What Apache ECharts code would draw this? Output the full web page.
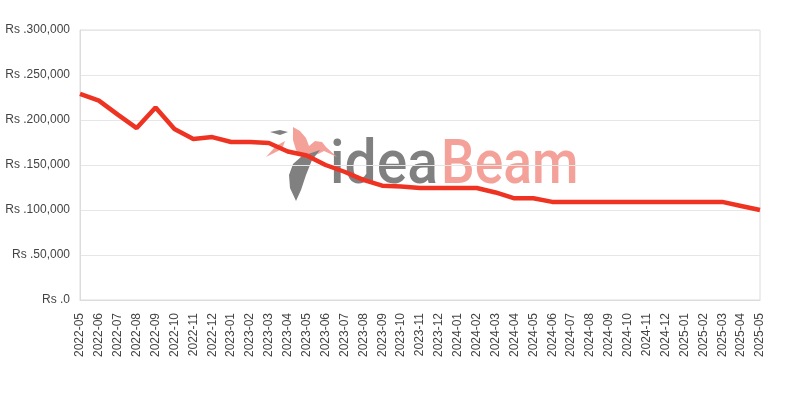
<!DOCTYPE html>
<html>
<head>
<meta charset="utf-8">
<script src="https://cdn.jsdelivr.net/npm/echarts@6/dist/echarts.min.js"></script>
<style>html,body{margin:0;padding:0;background:#fff;}#c{width:800px;height:400px;}</style>
</head>
<body>
<div id="c"></div>
<script>
var months = ['2022-05','2022-06','2022-07','2022-08','2022-09','2022-10','2022-11','2022-12',
  '2023-01','2023-02','2023-03','2023-04','2023-05','2023-06','2023-07','2023-08','2023-09','2023-10','2023-11','2023-12',
  '2024-01','2024-02','2024-03','2024-04','2024-05','2024-06','2024-07','2024-08','2024-09','2024-10','2024-11','2024-12',
  '2025-01','2025-02','2025-03','2025-04','2025-05'];
var prices = [229000,221500,206000,191000,214000,190000,179000,181000,
  175500,175500,174500,165000,160500,150000,142500,133500,127000,126000,124500,124500,
  124500,124500,119500,113000,113000,109000,109000,109000,109000,109000,109000,109000,
  109000,109000,109000,104500,100000];
var yTicks = [0,50000,100000,150000,200000,250000,300000];

var chart = echarts.init(document.getElementById('c'));
function fmt(v){ return 'Rs .' + v.toLocaleString('en-US'); }
chart.setOption({
  animation: false,
  grid: {left: 80, right: 40, top: 30, bottom: 100, show: true, borderColor: '#dcdcdc', borderWidth: 1, backgroundColor: 'transparent'},
  graphic: [
    {type: 'text', z: 0, x: 330, y: 136, scaleX: 0.92,
     style: {text: 'idea', font: '500 62px Roboto', fill: '#808080'}},
    {type: 'text', z: 0, x: 441, y: 136, scaleX: 0.86,
     style: {text: 'Beam', font: '500 62px Roboto', fill: '#f4a19a'}},
    {type: 'polygon', z: 0, shape: {points: [[293,127],[300,131],[306,138],[309,146],[315,141],[322,142],[326,147],[337,157],[324,151],[318,154],[308,157],[300,155],[296,150],[293,140]]},
     style: {fill: '#f4a19a'}},
    {type: 'polygon', z: 0, shape: {points: [[266,157],[276,146],[285,141],[282,149]]}, style: {fill: '#f4a19a'}},
    {type: 'polygon', z: 0, shape: {points: [[270,132],[280,130],[288,132],[280,135]]}, style: {fill: '#808080'}},
    {type: 'polygon', z: 0, shape: {points: [[296,201],[290,188],[289,175],[293,164],[302,156],[320,150],[312,160],[306,175],[301,190]]},
     style: {fill: '#808080'}}
  ],
  xAxis: {
    type: 'category', data: months, boundaryGap: false,
    axisLine: {show: true, lineStyle: {color: '#dcdcdc'}},
    axisTick: {show: false},
    splitLine: {show: false},
    axisLabel: {rotate: 90, interval: 0, margin: 13, color: '#444', fontSize: 12, fontFamily: 'Liberation Sans'}
  },
  yAxis: {
    type: 'value', min: 0, max: 300000, interval: 50000,
    axisLine: {show: true, lineStyle: {color: '#dcdcdc'}},
    axisTick: {show: false},
    splitLine: {lineStyle: {color: '#e6e6e6'}},
    axisLabel: {margin: 10, color: '#444', fontSize: 12, fontFamily: 'Liberation Sans',
      customValues: yTicks, formatter: fmt}
  },
  series: [{
    type: 'line', data: prices, showSymbol: false, symbol: 'none', z: 5,
    lineStyle: {color: '#ef3323', width: 4.5}
  }]
});
</script>
</body>
</html>
